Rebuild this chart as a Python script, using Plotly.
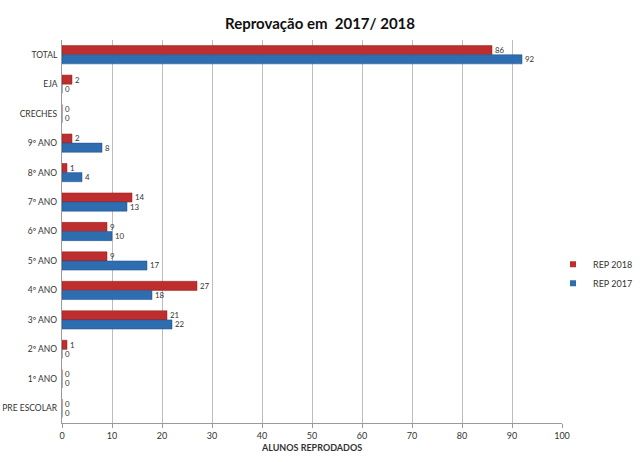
import plotly.graph_objects as go

# dados
categorias = ["TOTAL", "EJA", "CRECHES", "9º ANO", "8º ANO", "7º ANO", "6º ANO",
              "5º ANO", "4º ANO", "3º ANO", "2º ANO", "1º ANO", "PRE ESCOLAR"]
rep_2018 = [86, 2, 0, 2, 1, 14, 9, 9, 27, 21, 1, 0, 0]
rep_2017 = [92, 0, 0, 8, 4, 13, 10, 17, 18, 22, 0, 0, 0]
series = [("REP 2018", rep_2018, "#BE2E2E", "#8E1E1E"),
          ("REP 2017", rep_2017, "#2E6DB0", "#1F4F86")]

fonte = "Lato, Open Sans, sans-serif"

fig = go.Figure()

for nome, valores, cor, borda in series:
    fig.add_trace(go.Bar(
        y=categorias, x=valores, name=nome, orientation="h", showlegend=False,
        marker=dict(color=cor, line=dict(color=borda, width=0.5)),
        text=valores, textposition="outside", cliponaxis=False,
        textfont=dict(size=9.5, color="#333333")
    ))

# entradas da legenda com quadradinhos pequenos
for nome, valores, cor, borda in series:
    fig.add_trace(go.Scatter(
        x=[None], y=[None], mode="markers", name=nome,
        marker=dict(symbol="square", size=6, color=cor)
    ))

fig.update_layout(
    width=640, height=462,
    barmode="group", bargap=0.38, bargroupgap=0,
    plot_bgcolor="white", paper_bgcolor="white",
    font=dict(family=fonte, size=9, color="#333333"),
    title=dict(text="<b>Reprovação em  2017/ 2018</b>", x=0.5, xanchor="center",
               y=0.948, yanchor="middle", font=dict(size=15, color="#111111")),
    margin=dict(l=62, r=78, t=40, b=39, autoexpand=False),
    legend=dict(x=0.982, y=0.39, xanchor="left", yanchor="middle",
                font=dict(size=9), bgcolor="rgba(0,0,0,0)", tracegroupgap=0,
                itemwidth=30),
    xaxis=dict(range=[0, 100], dtick=10, showgrid=True, gridcolor="#BDBDBD",
               gridwidth=1, zeroline=False, showline=True, linecolor="#9A9A9A",
               ticks="outside", ticklen=4, tickcolor="#9A9A9A", automargin=False,
               title=dict(text="<b>ALUNOS REPRODADOS</b>", font=dict(size=9), standoff=4),
               tickfont=dict(size=9)),
    yaxis=dict(autorange="reversed", showgrid=False, showline=True, linecolor="#9A9A9A",
               ticks="", tickfont=dict(size=8.5), ticksuffix=" ", automargin=False),
)

# tira a margem padrão de 8px do body para a figura ocupar a janela toda
fig.write_html("out.html", config={"displayModeBar": False},
               post_script="document.body.style.margin='0';")
